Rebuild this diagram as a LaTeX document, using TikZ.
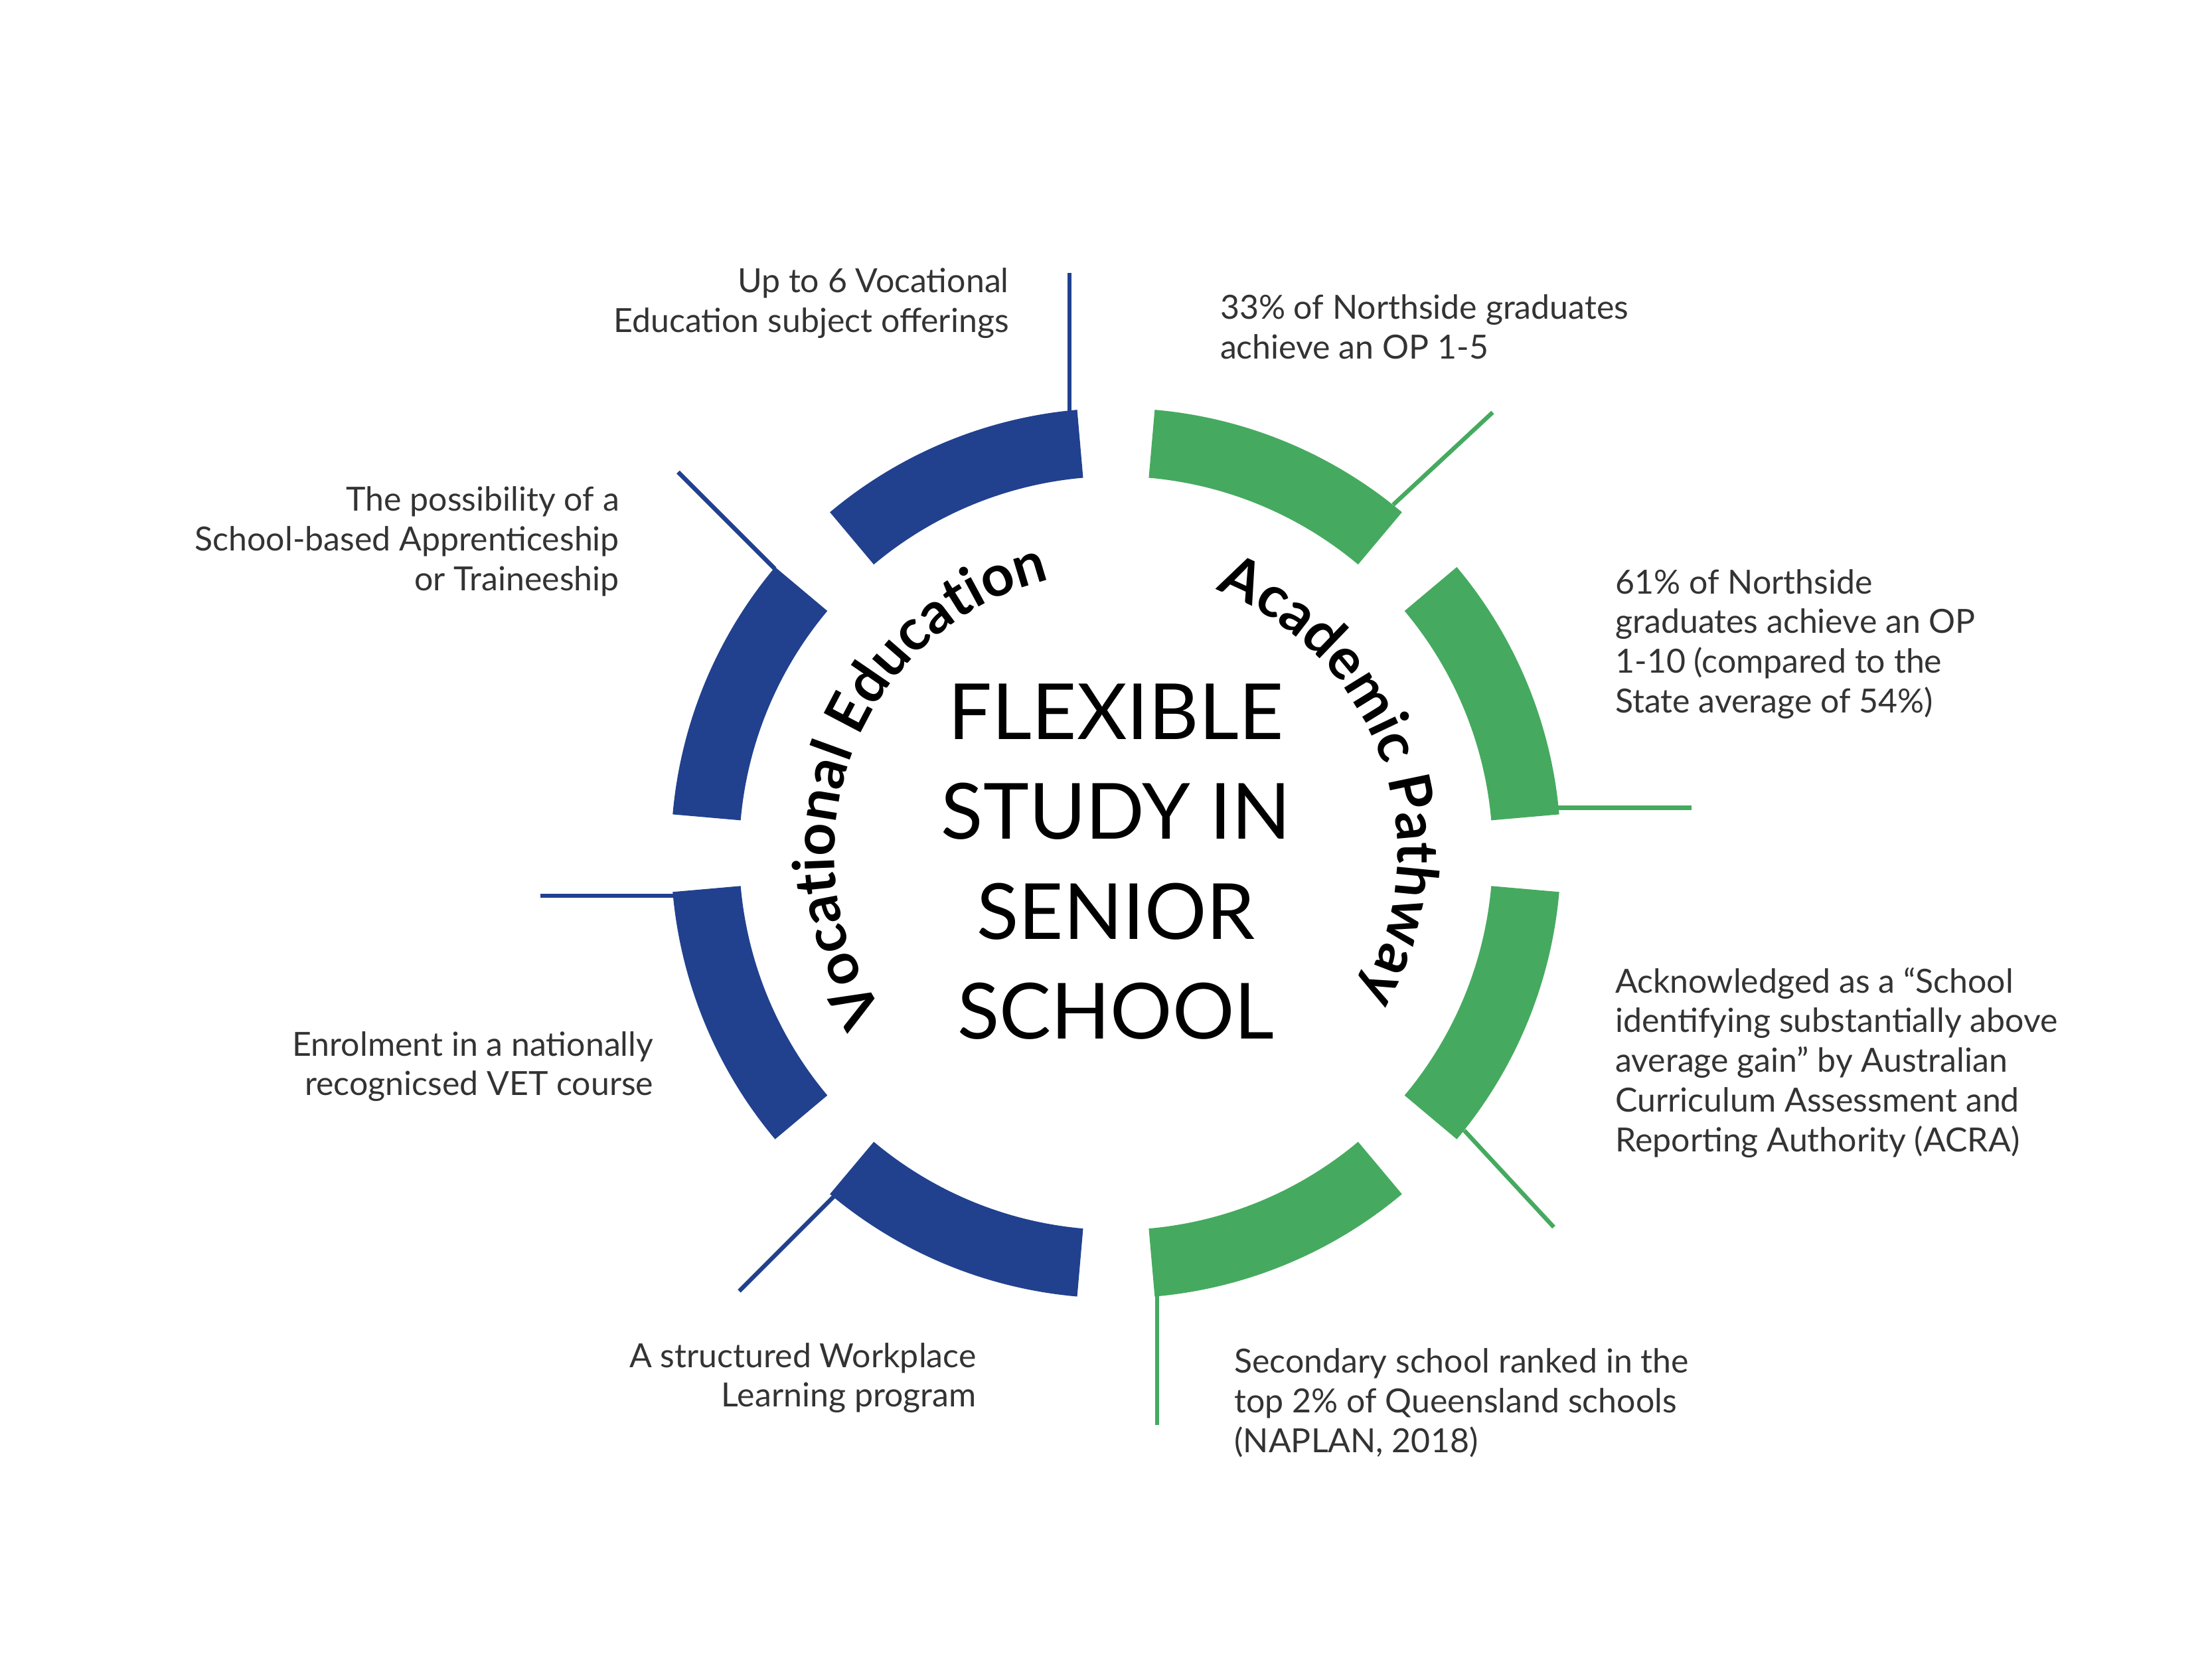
\documentclass[tikz,border=0pt]{standalone}
\usepackage{fontspec}
\setmainfont{Lato}
\usetikzlibrary{decorations.text}
\definecolor{voc}{HTML}{21418F}
\definecolor{aca}{HTML}{45AA5F}
\definecolor{txt}{HTML}{333333}
\tikzset{
  lbl/.style = {font=\fontsize{13.3}{15.9}\selectfont, text=txt, inner sep=0pt},
  lblr/.style = {lbl, align=right, anchor=north east},
  lbll/.style = {lbl, align=left, anchor=north west},
  leader/.style = {line width=1.7pt}
}
\newcommand{\ringseg}[3]{%
  \fill[#3] (#1:313) arc (#1:#2:313) -- (#2:265) arc (#2:#1:265) -- cycle;}

\begin{document}
\begin{tikzpicture}[x=0.02cm, y=0.02cm]
    \useasboundingbox (-785,-577) rectangle (771,600);

    % ring segments
    \ringseg{95}{130}{voc}
    \ringseg{140}{175}{voc}
    \ringseg{185}{220}{voc}
    \ringseg{230}{265}{voc}
    \ringseg{85}{50}{aca}
    \ringseg{40}{5}{aca}
    \ringseg{-5}{-40}{aca}
    \ringseg{-50}{-85}{aca}

    % centre title
    \node (title) [font=\fontsize{31}{40}\selectfont, align=center, inner sep=0pt]
      at (0,-6) {FLEXIBLE\\STUDY IN\\SENIOR\\SCHOOL};

    % curved headings
    \path[decorate, decoration={text along path, text align=center,
      text={|\fontsize{23}{25}\selectfont\bfseries|Vocational Education}}]
      (225:198) arc (225:93:198);
    \path[decorate, decoration={text along path, text align=center,
      text={|\fontsize{23}{25}\selectfont\bfseries|Academic Pathway}}]
      (80:198) arc (80:-41:198);

    % leader ends
    \coordinate (v1a) at (96:312);   \coordinate (v1b) at (-31,408);
    \coordinate (v2a) at (-240,200); \coordinate (v2b) at (-308,268);
    \coordinate (v3a) at (-310,-30); \coordinate (v3b) at (-405,-30);
    \coordinate (v4a) at (-195,-238);\coordinate (v4b) at (-265,-308);
    \coordinate (a1a) at (195,245);  \coordinate (a1b) at (265,310);
    \coordinate (a2a) at (310,32);   \coordinate (a2b) at (405,32);
    \coordinate (a3a) at (245,-195); \coordinate (a3b) at (308,-263);
    \coordinate (a4a) at (29,-306);  \coordinate (a4b) at (29,-402);

    \draw [leader, voc] (v1a) -- (v1a |- v1b);
    \draw [leader, voc] (v2a) -- (v2b);
    \draw [leader, voc] (v3a) -- (v3b);
    \draw [leader, voc] (v4a) -- (v4b);
    \draw [leader, aca] (a1a) -- (a1b);
    \draw [leader, aca] (a2a) -- (a2b);
    \draw [leader, aca] (a3a) -- (a3b);
    \draw [leader, aca] (a4a) -- (a4b);

    % labels
    \node (subjects) [lblr] at (-75,412)
      {Up to 6 Vocational\\Education subject offerings};
    \node (apprentice) [lblr] at (-349,258)
      {The possibility of a\\School-based Apprenticeship\\or Traineeship};
    \node (vet) [lblr] at (-325,-125)
      {Enrolment in a nationally\\recognicsed VET course};
    \node (workplace) [lblr] at (-98,-344)
      {A structured Workplace\\Learning program};
    \node (op5) [lbll] at (73,393)
      {33\% of Northside graduates\\achieve an OP 1-5};
    \node (op10) [lbll] at (351,200)
      {61\% of Northside\\graduates achieve an OP\\1-10 (compared to the\\State average of 54\%)};
    \node (acra) [lbll] at (351,-80)
      {Acknowledged as a “School\\identifying substantially above\\average gain” by Australian\\Curriculum Assessment and\\Reporting Authority (ACRA)};
    \node (naplan) [lbll] at (83,-348)
      {Secondary school ranked in the\\top 2\% of Queensland schools\\(NAPLAN, 2018)};
\end{tikzpicture}
\end{document}
